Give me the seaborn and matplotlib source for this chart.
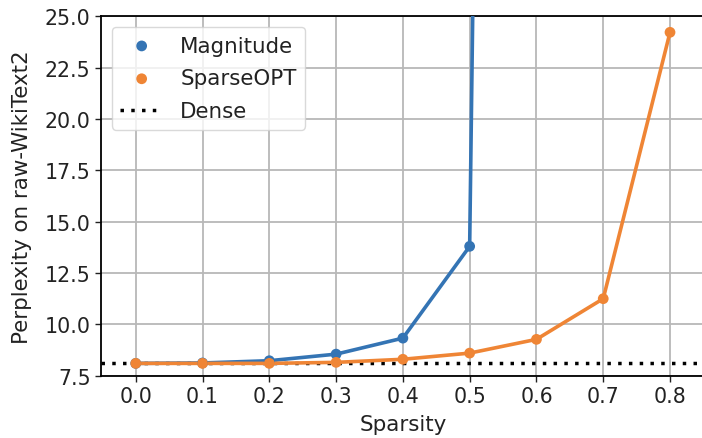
import matplotlib
matplotlib.use("Agg")
import matplotlib.pyplot as plt
import seaborn as sns
import pandas as pd

sparsity_mag = [0.0, 0.1, 0.2, 0.3, 0.4, 0.5, 0.6]
magnitude = [8.10, 8.12, 8.23, 8.55, 9.33, 13.8, 260.0]
sparsity_opt = [0.0, 0.1, 0.2, 0.3, 0.4, 0.5, 0.6, 0.7, 0.8]
sparseopt = [8.10, 8.10, 8.10, 8.15, 8.30, 8.60, 9.27, 11.25, 24.22]
dense = 8.14
xticks = [0.0, 0.1, 0.2, 0.3, 0.4, 0.5, 0.6, 0.7, 0.8]
yticks = [7.5, 10.0, 12.5, 15.0, 17.5, 20.0, 22.5, 25.0]

sns.set_style("ticks")
plt.rcParams['font.family'] = ['DejaVu Sans']
blue = "#3474b4"
orange = "#ef8535"

df_mag = pd.DataFrame({"Sparsity": sparsity_mag, "ppl": magnitude})
df_opt = pd.DataFrame({"Sparsity": sparsity_opt, "ppl": sparseopt})

fig = plt.figure(figsize=(7.02, 4.39), dpi=100)
ax = fig.add_axes([0.1439, 0.1419, 0.860, 0.8187])

sns.lineplot(data=df_mag, x="Sparsity", y="ppl", color=blue, lw=2.6, ax=ax, zorder=3)
sns.lineplot(data=df_opt, x="Sparsity", y="ppl", color=orange, lw=2.6, ax=ax, zorder=3)
sns.scatterplot(data=df_mag, x="Sparsity", y="ppl", color=blue, s=60, edgecolor="none",
                ax=ax, label="Magnitude", zorder=4)
sns.scatterplot(data=df_opt, x="Sparsity", y="ppl", color=orange, s=60, edgecolor="none",
                ax=ax, label="SparseOPT", zorder=4)
ax.axhline(dense, ls=(0, (1.0, 2.1)), color="black", lw=2.5, label="Dense", zorder=2)

ax.set_xlim(-0.052, 0.852)
ax.set_ylim(7.5, 25.0)
ax.set_xticks(xticks)
ax.set_yticks(yticks)
ax.set_xticklabels([f"{v:.1f}" for v in xticks])
ax.set_yticklabels([f"{v:.1f}" for v in yticks])
ax.tick_params(labelsize=14.8, length=4, width=1, colors="#222222")
ax.set_xlabel("Sparsity", fontsize=15.4, color="#222222", labelpad=6)
ax.set_ylabel("Perplexity on raw-WikiText2", fontsize=15.4, color="#222222", labelpad=9)
ax.grid(True, color="#b8b8b8", lw=1.3)
for s in ax.spines.values():
    s.set_color("black")
    s.set_linewidth(1.3)

leg = ax.legend(loc="upper left", fontsize=15.4, frameon=True, handlelength=2.0,
                borderaxespad=0.5, labelspacing=0.6)
leg.get_frame().set_edgecolor("#d0d0d0")
for t in leg.get_texts():
    t.set_color("#222222")

fig.savefig("out.png", dpi=100)
